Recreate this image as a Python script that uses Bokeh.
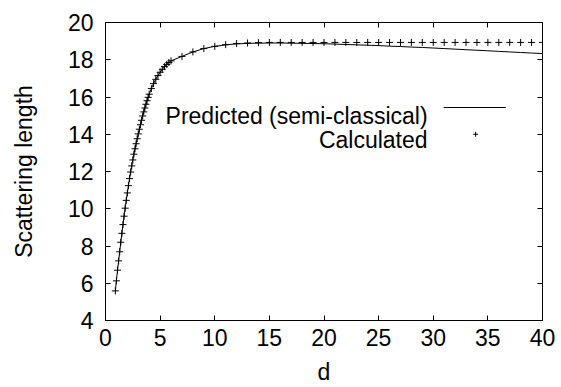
from bokeh.plotting import figure
from bokeh.models import LinearAxis, Label, BoxAnnotation, Range1d, FixedTicker
from bokeh.embed import file_html
from bokeh.resources import INLINE

# ---------------- data ----------------
calc_d = [0.9, 1.0, 1.1, 1.2, 1.3, 1.4, 1.5, 1.6, 1.7, 1.8, 1.9, 2.0, 2.1, 2.2, 2.3, 2.4,
          2.5, 2.6, 2.7, 2.8, 2.9, 3.0, 3.1, 3.2, 3.3, 3.4, 3.5, 3.6, 3.7, 3.8, 3.9, 4.0,
          4.2, 4.4, 4.6, 4.8, 5.0, 5.2, 5.4, 5.6, 5.8, 6.0,
          7, 8, 9, 10, 11, 12, 13, 14, 15, 16, 17, 18, 19, 20, 21, 22, 23, 24, 25, 26,
          27, 28, 29, 30, 31, 32, 33, 34, 35, 36, 37, 38, 39, 40]
calc_a = [5.59, 6.13, 6.70, 7.20, 7.69, 8.20, 8.68, 9.15, 9.60, 10.03, 10.45, 10.85, 11.24,
          11.62, 11.97, 12.30, 12.62, 12.93, 13.22, 13.49, 13.76, 14.02, 14.27, 14.51, 14.75,
          14.98, 15.20, 15.41, 15.61, 15.80, 15.98, 16.15,
          16.45, 16.72, 16.95, 17.15, 17.33, 17.49, 17.63, 17.75, 17.85, 17.94,
          18.18, 18.42, 18.60, 18.72, 18.81, 18.87, 18.90, 18.92, 18.93, 18.93, 18.93, 18.93,
          18.93, 18.93, 18.93, 18.93, 18.93, 18.93, 18.93, 18.93, 18.93, 18.93, 18.93, 18.93,
          18.93, 18.93, 18.93, 18.93, 18.93, 18.93, 18.93, 18.93, 18.93, 18.93]

pred_d = [0.9, 1.0, 1.1, 1.2, 1.3, 1.4, 1.5, 1.6, 1.7, 1.8, 1.9, 2.0, 2.1, 2.2, 2.3, 2.4,
          2.5, 2.6, 2.7, 2.8, 2.9, 3.0, 3.1, 3.2, 3.3, 3.4, 3.5, 3.6, 3.7, 3.8, 3.9, 4.0,
          4.2, 4.4, 4.6, 4.8, 5.0, 5.2, 5.4, 5.6, 5.8, 6.0,
          7, 8, 9, 10, 11, 12, 13, 14, 15, 16, 17, 18, 19, 20, 21, 22, 23, 24, 25, 26,
          27, 28, 29, 30, 31, 32, 33, 34, 35, 36, 37, 38, 39, 40]
pred_a = [5.59, 6.13, 6.70, 7.20, 7.69, 8.20, 8.68, 9.15, 9.60, 10.03, 10.45, 10.85, 11.24,
          11.62, 11.97, 12.30, 12.62, 12.93, 13.22, 13.49, 13.76, 14.02, 14.27, 14.51, 14.75,
          14.98, 15.20, 15.41, 15.61, 15.80, 15.98, 16.15,
          16.45, 16.72, 16.95, 17.15, 17.33, 17.49, 17.63, 17.75, 17.85, 17.94,
          18.18, 18.42, 18.60, 18.72, 18.80, 18.85, 18.88, 18.89, 18.90, 18.90, 18.89, 18.88,
          18.87, 18.86, 18.84, 18.82, 18.80, 18.78, 18.76, 18.73, 18.71, 18.68, 18.66, 18.63,
          18.60, 18.57, 18.54, 18.51, 18.48, 18.45, 18.42, 18.39, 18.36, 18.33]

x_ticks = [0, 5, 10, 15, 20, 25, 30, 35, 40]
y_ticks = [4, 6, 8, 10, 12, 14, 16, 18, 20]

series_names = ["Predicted (semi-classical)", "Calculated"]
x_title = "d"
y_title = "Scattering length"

# ---------------- styling ----------------
FONT = "Liberation Sans"
FS = "23px"
X0, X1 = 0, 40
Y0, Y1 = 4, 20

p = figure(width=561, height=387, output_backend="svg", toolbar_location=None,
           x_range=Range1d(X0, X1), y_range=Range1d(Y0, Y1),
           x_axis_location=None, y_axis_location=None,
           min_border_left=105, min_border_right=19, min_border_top=22, min_border_bottom=67)
p.grid.visible = False
p.outline_line_color = "black"
p.outline_line_width = 1
p.background_fill_color = "white"
p.border_fill_color = "white"


def make_axis(title=None):
    ax = LinearAxis()
    ax.axis_line_color = "black"
    ax.major_tick_line_color = "black"
    ax.major_tick_in = 5
    ax.major_tick_out = 0
    ax.minor_tick_line_color = None
    ax.major_label_text_font = FONT
    ax.major_label_text_color = "black"
    ax.major_label_text_font_size = FS
    if title:
        ax.axis_label = title
        ax.axis_label_text_font = FONT
        ax.axis_label_text_font_size = FS
        ax.axis_label_text_font_style = "normal"
        ax.axis_label_text_color = "black"
    return ax


def mirror_axis(ticks):
    # ticks only (drawn as minor ticks, so no labels are produced)
    ax = LinearAxis(ticker=FixedTicker(ticks=[], minor_ticks=ticks))
    ax.axis_line_color = "black"
    ax.major_tick_line_color = None
    ax.minor_tick_line_color = "black"
    ax.minor_tick_in = 5
    ax.minor_tick_out = 0
    ax.major_label_text_font_size = "0px"
    ax.major_label_standoff = 0
    return ax


xb = make_axis(x_title)
xb.ticker = FixedTicker(ticks=x_ticks)
xb.major_label_standoff = 8
xb.axis_label_standoff = 10
p.add_layout(xb, "below")

yl = make_axis(y_title)
yl.ticker = FixedTicker(ticks=y_ticks)
yl.major_label_standoff = 12
yl.axis_label_standoff = 28
p.add_layout(yl, "left")

p.add_layout(mirror_axis(x_ticks), "above")
p.add_layout(mirror_axis(y_ticks), "right")

# ---------------- data marks ----------------
p.line(pred_d, pred_a, line_color="black", line_width=1)
p.scatter(calc_d, calc_a, marker="cross", size=7, line_color="black", line_width=1)


# ---------------- key (gnuplot style: text then sample) ----------------
def fx(f):
    return X0 + f * (X1 - X0)


def fy(f):
    return Y0 + f * (Y1 - Y0)


key_text_x = fx(0.737)
for i, name in enumerate(series_names):
    p.add_layout(Label(x=key_text_x, y=fy(0.6875 - i * 0.0825), text=name,
                       text_align="right", text_baseline="alphabetic",
                       text_font=FONT, text_font_size=FS, text_color="black"))

p.add_layout(BoxAnnotation(left=fx(0.774), right=fx(0.916),
                           bottom=fy(0.7150) - 0.027, top=fy(0.7150) + 0.027,
                           fill_color="black", fill_alpha=1, line_alpha=0))
p.scatter([fx(0.847)], [fy(0.625)], marker="cross", size=5, line_color="black", line_width=1)

open("out.html", "w").write(file_html(p, INLINE))
